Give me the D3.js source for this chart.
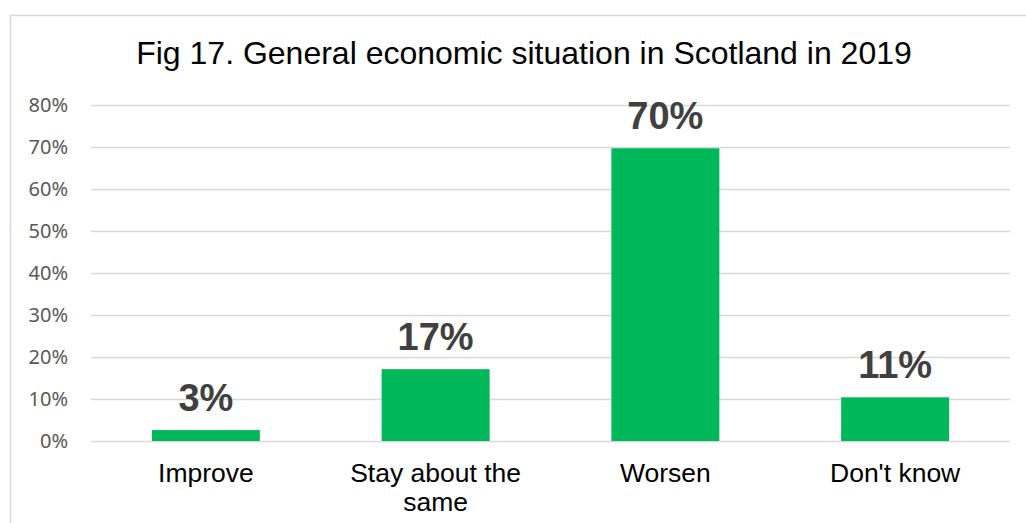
<!DOCTYPE html>
<html>
<head>
<meta charset="utf-8">
<script src="https://cdn.jsdelivr.net/npm/d3@7"></script>
<style>
  html, body { margin: 0; padding: 0; background: #fff; }
  svg { display: block; }
</style>
</head>
<body>
<svg id="chart" width="1026" height="523"></svg>
<script>
const titleText = "Fig 17. General economic situation in Scotland in 2019";
const categories = ["Improve", "Stay about the same", "Worsen", "Don't know"];
const values = [0.026, 0.171, 0.697, 0.104];
const valueLabels = ["3%", "17%", "70%", "11%"];
const yTicks = [0, 0.1, 0.2, 0.3, 0.4, 0.5, 0.6, 0.7, 0.8];

const W = 1026, H = 523;
const margin = { left: 91, right: 16, top: 105, bottom: 82 };
const svg = d3.select("#chart");

// outer border
svg.append("rect")
  .attr("x", 10.5).attr("y", 15.5)
  .attr("width", W + 20).attr("height", H + 20)
  .attr("fill", "none").attr("stroke", "#d9d9d9").attr("stroke-width", 1.5);

const x = d3.scaleBand().domain(categories)
  .range([margin.left, W - margin.right])
  .paddingInner(0.53).paddingOuter(0.265);
const y = d3.scaleLinear().domain([0, 0.8]).range([H - margin.bottom, margin.top]);

// title
svg.append("text")
  .attr("x", 524).attr("y", 64)
  .attr("text-anchor", "middle")
  .attr("font-family", "'Liberation Sans', Arial, sans-serif")
  .attr("font-size", 32)
  .attr("fill", "#000")
  .text(titleText);

// gridlines
const yAxis = d3.axisLeft(y).tickValues(yTicks)
  .tickFormat(d3.format(".0%"))
  .tickSize(-(W - margin.right - margin.left))
  .tickPadding(23);
const gy = svg.append("g").attr("transform", `translate(${margin.left},0)`).call(yAxis);
gy.select(".domain").remove();
gy.selectAll(".tick line").attr("stroke", "#d9d9d9").attr("stroke-width", 1.5);
gy.selectAll(".tick text")
  .attr("font-family", "'Noto Sans', 'Open Sans', sans-serif")
  .attr("font-size", 20)
  .attr("fill", "#595959");

// bars
svg.append("g").selectAll("rect").data(values).join("rect")
  .attr("x", (d, i) => x(categories[i]))
  .attr("width", x.bandwidth())
  .attr("y", d => y(d))
  .attr("height", d => y(0) - y(d))
  .attr("fill", "#00b85a");

// value labels
svg.append("g").selectAll("text").data(values).join("text")
  .attr("x", (d, i) => x(categories[i]) + x.bandwidth() / 2)
  .attr("y", d => y(d) - 19)
  .attr("text-anchor", "middle")
  .attr("font-family", "'Liberation Sans', Arial, sans-serif")
  .attr("font-weight", "bold")
  .attr("font-size", 38)
  .attr("fill", "#404040")
  .text((d, i) => valueLabels[i]);

// category labels with wrapping
const xAxis = d3.axisBottom(x).tickSize(0).tickPadding(0);
const gx = svg.append("g").attr("transform", `translate(0,${y(0)})`).call(xAxis);
gx.select(".domain").remove();
gx.selectAll(".tick text")
  .attr("font-family", "'Liberation Sans', Arial, sans-serif")
  .attr("font-size", 26.5)
  .attr("fill", "#000")
  .attr("dy", null)
  .attr("y", 41)
  .each(function(d) {
    const t = d3.select(this);
    const words = d.split(" ");
    t.text(null);
    let line = [];
    let lines = [];
    const tmp = t.append("tspan");
    words.forEach(w => {
      line.push(w);
      tmp.text(line.join(" "));
      if (tmp.node().getComputedTextLength() > 200 && line.length > 1) {
        line.pop();
        lines.push(line.join(" "));
        line = [w];
      }
    });
    lines.push(line.join(" "));
    tmp.remove();
    lines.forEach((l, i) => {
      t.append("tspan").attr("x", 0).attr("y", 41 + i * 29).text(l);
    });
  });
</script>
</body>
</html>
